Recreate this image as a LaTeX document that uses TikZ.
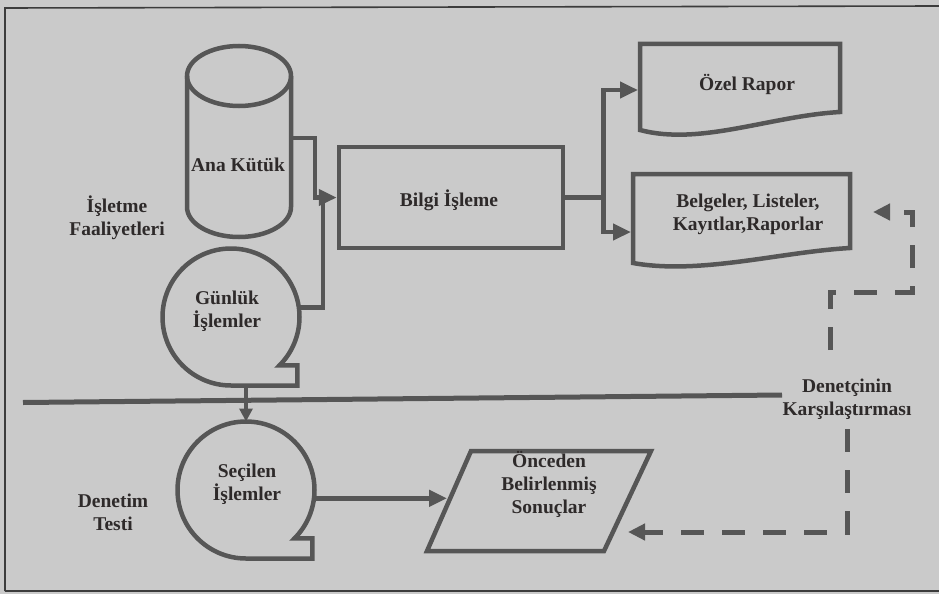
\documentclass[tikz,border=0pt]{standalone}
\usepackage{fontspec}
\setmainfont{Liberation Serif}
\usetikzlibrary{arrows.meta,calc}
\definecolor{paper}{RGB}{202,202,202}
\definecolor{ink}{RGB}{86,86,86}
\definecolor{txtc}{RGB}{46,42,42}
% fixed height for the first line of every label
\newcommand\firstline{\rule{0pt}{17pt}}
\begin{document}
\begin{tikzpicture}[x=1pt,y=-1pt,
  shp/.style={draw=ink, line width=4.5pt, line join=miter},
  txtf/.style={text=txtc, font=\bfseries\fontsize{19.5}{23}\selectfont, align=center, inner sep=0pt},
  lbl/.style={txtf, anchor=north},
  hold/.style={inner sep=0pt, outer sep=0pt},
  wire/.style={draw=ink, line width=4.5pt},
  flow/.style={wire, -{Triangle[length=18pt,width=16pt]}},
  dashflow/.style={draw=ink, line width=5pt, dash pattern=on 23pt off 18pt, -{Triangle[length=17pt,width=16pt]}},
  frame/.style={draw=ink!70!black, line width=1.6pt},
]
\fill[paper] (0,0) rectangle (939,594);
\useasboundingbox (0,0) rectangle (939,594);

% page frame
\draw[frame] (5,591) -- (5,8) -- (939,6);
\draw[frame] (5,591) -- (939,591);

% separator between operations and audit test
\draw[draw=ink, line width=5pt] (23,402.5) -- (782,395);

% master file (cylinder)
\node[hold, minimum width=104pt, minimum height=131pt] (kutuk) at (239,141.5) {};
\draw[shp] (kutuk.north west) -- (kutuk.south west)
  arc[start angle=180, end angle=0, x radius=52, y radius=30] -- (kutuk.north east);
\draw[shp] (kutuk.north) ellipse[x radius=52, y radius=30];
\node[lbl] (kutuk-t) at (238,154) {\firstline Ana Kütük};

% daily transactions (tape symbol)
\node[hold, circle, minimum size=137pt] (gunluk) at (231,317) {};
\draw[shp] (gunluk.south) arc[start angle=90, end angle=405, radius=68.5]
  -- ++(18,0) coordinate (gtail) -- (gtail |- gunluk.south) -- cycle;
\node[lbl] (gunluk-t) at (227,287) {\firstline Günlük\\İşlemler};

% processing box
\node[shp, hold, minimum width=224pt, minimum height=101pt, outer sep=2.25pt] (bilgi) at (451,197.5) {};
\node[lbl] (bilgi-t) at (449,189) {\firstline Bilgi İşleme};

% special report (document)
\draw[shp] (640,130) -- (640,44) -- (840,44) -- (840,112)
  .. controls (770,116) and (700,146) .. (640,130) -- cycle;
\node[lbl] (ozel) at (747,73) {\firstline Özel Rapor};
\coordinate (ozel-w) at (638,90);

% documents, lists, records (document)
\draw[shp] (633,263) -- (633,174) -- (850,174) -- (850,248)
  .. controls (780,252) and (700,275) .. (633,263) -- cycle;
\node[lbl] (belge) at (748,190) {\firstline Belgeler, Listeler,\\Kayıtlar,Raporlar};
\coordinate (belge-w) at (631,232);
\coordinate (belge-e) at (873,212);

% selected transactions (tape symbol)
\node[hold, circle, minimum size=137pt] (secilen) at (246,490) {};
\draw[shp] (secilen.south) arc[start angle=90, end angle=405, radius=68.5]
  -- ++(18,0) coordinate (stail) -- (stail |- secilen.south) -- cycle;
\node[lbl] (secilen-t) at (247,460) {\firstline Seçilen\\İşlemler};

% predetermined results (parallelogram)
\draw[shp] (471,451) -- (651,451) -- (604,551) -- (427,551) -- cycle;
\node[lbl] (sonuc) at (549,450) {\firstline Önceden\\Belirlenmiş\\Sonuçlar};
\coordinate (sonuc-w) at (447,499);
\coordinate (sonuc-e) at (628,532);

% side labels
\node[lbl] (isletme) at (117,195) {\firstline İşletme\\Faaliyetleri};
\node[lbl] (denetim) at (113,490) {\firstline Denetim\\Testi};
\node[lbl] (karsi) at (847,375) {\firstline Denetçinin\\Karşılaştırması};
\coordinate (cmp-turn) at (912,292);

% flows
\draw[flow] ([yshift=3.5pt]kutuk.east) -| ([xshift=-22pt]bilgi.west) -- (bilgi.west);
\draw[wire] (gunluk.8) -| ([xshift=-14pt]bilgi.west);
\draw[flow] (bilgi.east) -- ++(38,0) |- (ozel-w);
\draw[flow] (bilgi.east) -- ++(38,0) |- (belge-w);
\draw[wire, line width=4pt, -{Triangle[length=13pt,width=13pt]}] (secilen.north |- gunluk.south) -- (secilen.north);
\draw[flow] (secilen.-7) -- (secilen.-7 -| sonuc-w);

% auditor's comparison (dashed)
\draw[dashflow] ([xshift=-17pt,yshift=25pt]karsi.north) |- (cmp-turn) |- (belge-e);
\draw[dashflow] ([yshift=-10pt]karsi.south) |- (sonuc-e);
\end{tikzpicture}
\end{document}
